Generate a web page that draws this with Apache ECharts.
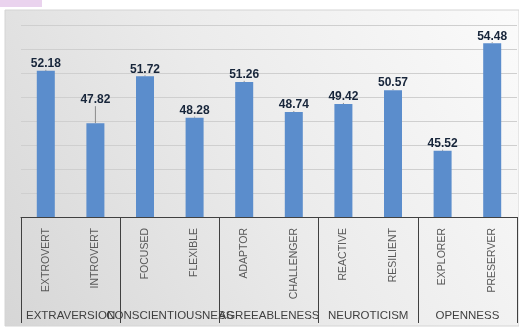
<!DOCTYPE html>
<html><head><meta charset="utf-8">
<script src="https://cdn.jsdelivr.net/npm/echarts@6/dist/echarts.min.js"></script>
<style>html,body{margin:0;padding:0;background:#fff}#c{width:519px;height:328px}</style>
</head><body><div id="c"></div>
<script>
var categories = ['EXTROVERT','INTROVERT','FOCUSED','FLEXIBLE','ADAPTOR','CHALLENGER','REACTIVE','RESILIENT','EXPLORER','PRESERVER'];
var groups = ['EXTRAVERSION','CONSCIENTIOUSNESS','AGREEABLENESS','NEUROTICISM','OPENNESS'];
var values = [52.18, 47.82, 51.72, 48.28, 51.26, 48.74, 49.42, 50.57, 45.52, 54.48];
var yMin = 40, yMax = 56, yStep = 2;

var chart = echarts.init(document.getElementById('c'));
chart.setOption({
  animation: false,
  graphic: [
    {type:'rect', shape:{x:0,y:0,width:42,height:7}, style:{fill:'#ead3ee'}, z:-10},
    {type:'rect', shape:{x:5,y:10,width:514,height:316},
     style:{fill:new echarts.graphic.LinearGradient(0,1,1,0,[{offset:0,color:'#d6d6d6'},{offset:0.5,color:'#ebebeb'},{offset:1,color:'#fbfbfb'}]), stroke:'#d4d4d4', lineWidth:1}, z:-10}
  ],
  grid: {left:21, right:2, top:25, bottom:111},
  xAxis: [
    {type:'category', data:categories, position:'bottom',
     axisLine:{show:true, lineStyle:{color:'#404040', width:1}},
     axisTick:{show:false},
     axisLabel:{rotate:90, margin:11, color:'#595959', fontSize:10.5, fontFamily:'Liberation Sans'}},
    {type:'category', data:groups, position:'bottom', offset:0,
     axisLine:{show:false},
     axisTick:{show:true, length:106, alignWithLabel:false, lineStyle:{color:'#404040', width:1}},
     axisLabel:{margin:93, color:'#404040', fontSize:11.5, fontFamily:'Liberation Sans', interval:0}}
  ],
  yAxis: {type:'value', min:yMin, max:yMax, interval:yStep,
    axisLine:{show:false}, axisTick:{show:false}, axisLabel:{show:false},
    splitLine:{lineStyle:{color:'#cfcfcf', width:1}}},
  series: [{
    type:'bar', data:values, xAxisIndex:0, barWidth:18,
    itemStyle:{color:'#5b8dcc'},
    label:{show:true, position:'top', distance:1, color:'#17253a', fontSize:12, fontWeight:'bold', fontFamily:'Liberation Sans'},
    labelLine:{show:true, lineStyle:{color:'#8a8a8a', width:1}},
    labelLayout:function(p){ if(p.dataIndex===1){ return {dy:-16}; } return {}; }
  }]
});
</script></body></html>
